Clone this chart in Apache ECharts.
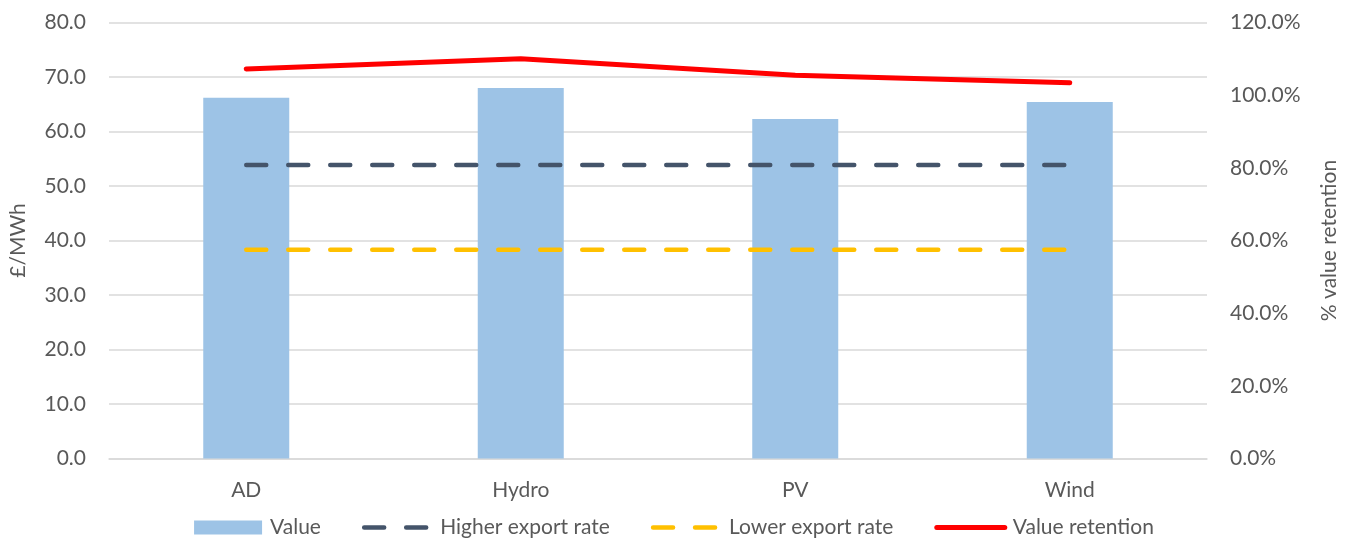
<!DOCTYPE html>
<html>
<head>
<meta charset="utf-8">
<script src="https://cdn.jsdelivr.net/npm/echarts@6/dist/echarts.min.js"></script>
<style>
  html, body { margin: 0; padding: 0; background: #ffffff; }
  #chart { width: 1348px; height: 538px; }
</style>
</head>
<body>
<div id="chart"></div>
<script>
// Technologies on the category axis
const categories = ['AD', 'Hydro', 'PV', 'Wind'];
// Value of exported/used generation, £/MWh
const valueData = [66.2, 68.0, 62.3, 65.4];
// Flat export tariffs, £/MWh
const higherExportRate = [53.85, 53.85, 53.85, 53.85];
const lowerExportRate = [38.3, 38.3, 38.3, 38.3];
// Value retention, %
const valueRetention = [107.2, 110.0, 105.5, 103.4];

const FONT = 'Lato';
const TEXT = '#595959';
const FS = 21;

const dashed = { width: 4.5, type: [20, 22], cap: 'round' };

const chart = echarts.init(document.getElementById('chart'));

chart.setOption({
  animation: false,
  textStyle: { fontFamily: FONT },
  grid: { left: 105, right: 141, top: 22.5, bottom: 79.5, containLabel: false },
  legend: {
    bottom: -5,
    left: 'center',
    itemWidth: 68,
    itemHeight: 14,
    itemGap: 41,
    textStyle: { color: TEXT, fontSize: FS, fontFamily: FONT, padding: [0, 0, 0, 3] },
    data: [
      { name: 'Value', icon: 'rect' },
      { name: 'Higher export rate', itemStyle: { opacity: 0 }, lineStyle: Object.assign({ color: '#44546a' }, dashed) },
      { name: 'Lower export rate', itemStyle: { opacity: 0 }, lineStyle: Object.assign({ color: '#ffc000' }, dashed) },
      { name: 'Value retention', itemStyle: { opacity: 0 }, lineStyle: { color: '#ff0000', width: 5, cap: 'round' } }
    ]
  },
  xAxis: {
    type: 'category',
    data: categories,
    boundaryGap: true,
    axisLine: { lineStyle: { color: '#d9d9d9', width: 1.5 } },
    axisTick: { show: false },
    axisLabel: { color: TEXT, fontSize: FS, margin: 21 }
  },
  yAxis: [
    {
      type: 'value',
      min: 0, max: 80, interval: 10,
      name: '£/MWh',
      nameLocation: 'middle',
      nameGap: 80,
      nameRotate: 90,
      nameTextStyle: { color: TEXT, fontSize: FS },
      axisLabel: { color: TEXT, fontSize: FS, margin: 23, formatter: v => v.toFixed(1) },
      axisLine: { show: false },
      axisTick: { show: false },
      splitLine: { lineStyle: { color: '#d9d9d9', width: 1.5 } }
    },
    {
      type: 'value',
      min: 0, max: 120, interval: 20,
      name: '% value retention',
      nameLocation: 'middle',
      nameGap: 112,
      nameRotate: 90,
      nameTextStyle: { color: TEXT, fontSize: FS },
      axisLabel: { color: TEXT, fontSize: FS, margin: 23, formatter: v => v.toFixed(1) + '%' },
      axisLine: { show: false },
      axisTick: { show: false },
      splitLine: { show: false }
    }
  ],
  series: [
    {
      name: 'Value',
      type: 'bar',
      data: valueData,
      barWidth: 86,
      itemStyle: { color: '#9dc3e6' },
      z: 1
    },
    {
      name: 'Higher export rate',
      type: 'line',
      data: higherExportRate,
      symbol: 'none',
      lineStyle: Object.assign({ color: '#44546a' }, dashed),
      itemStyle: { color: '#44546a' },
      z: 3
    },
    {
      name: 'Lower export rate',
      type: 'line',
      data: lowerExportRate,
      symbol: 'none',
      lineStyle: Object.assign({ color: '#ffc000' }, dashed),
      itemStyle: { color: '#ffc000' },
      z: 3
    },
    {
      name: 'Value retention',
      type: 'line',
      yAxisIndex: 1,
      data: valueRetention,
      symbol: 'none',
      lineStyle: { color: '#ff0000', width: 5, cap: 'round' },
      itemStyle: { color: '#ff0000' },
      z: 4
    }
  ]
});
</script>
</body>
</html>
